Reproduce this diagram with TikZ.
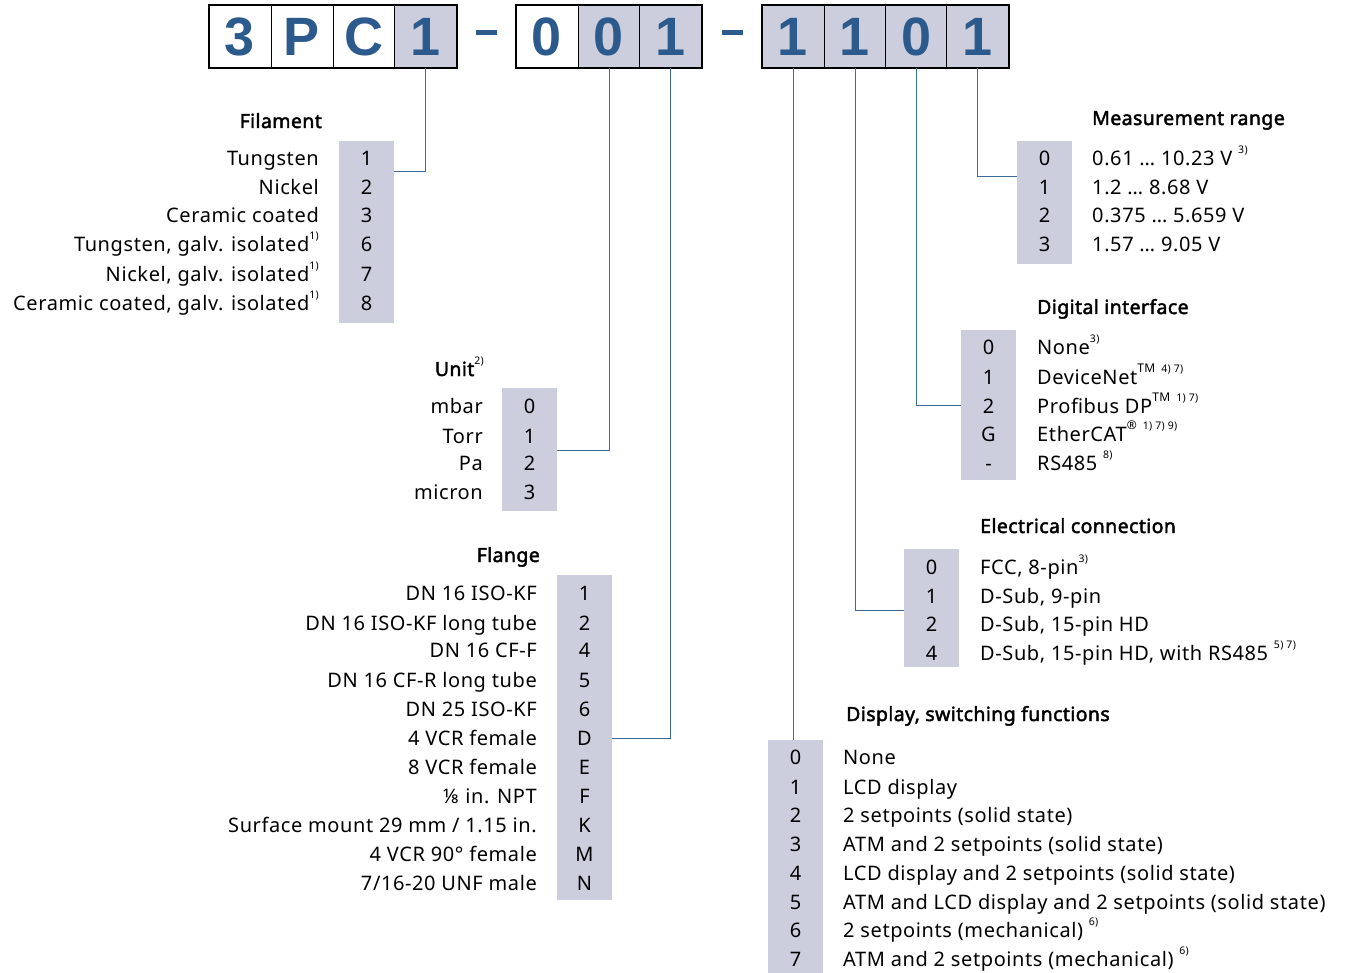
\documentclass[tikz,border=0pt]{standalone}
\usepackage{fontspec}
\usepackage{graphicx}
\setmainfont{Noto Sans}[LetterSpace=3]
\newfontfamily\hdrfont{Noto Sans}[FakeBold=2.2, LetterSpace=2]
\newfontfamily\codefont{Liberation Sans}
\definecolor{codeblue}{RGB}{44,90,140}
\definecolor{colgray}{RGB}{204,206,222}
\definecolor{connblue}{RGB}{60,106,154}
\newcommand\fn[1]{\raisebox{0.6em}{\normalfont\fontsize{10.5}{10.5}\selectfont #1}}
\tikzset{
  codebox/.style={draw=black, line width=1pt, minimum width=62pt, minimum height=62pt, inner sep=0pt,
    font=\codefont\bfseries\fontsize{54}{54}\selectfont, text=codeblue},
  grp/.style={draw=black, line width=2pt},
  colbox/.style={fill=colgray, minimum width=55pt, inner sep=0pt},
  itm/.style={font=\fontsize{20}{20}\selectfont, inner sep=0pt, text height=20pt, text depth=4pt},
  lft/.style={itm, anchor=east},
  rgt/.style={itm, anchor=west},
  dig/.style={itm, anchor=center},
  hdr/.style={font=\hdrfont\fontsize{19.5}{20}\selectfont, inner sep=0pt, text height=20pt, text depth=4pt},
  conn/.style={draw=connblue, line width=1pt},
  dashbar/.style={fill=codeblue, draw=none, minimum width=21pt, minimum height=5pt, inner sep=0pt}
}
\begin{document}
\begin{tikzpicture}[x=1pt,y=-1pt]
\useasboundingbox (0,0) rectangle (1346,973);
% code boxes
\node[codebox, fill=white] (a1) at (240,37) {3};
\node[codebox, fill=white] (a2) at (302,37) {P};
\node[codebox, fill=white] (a3) at (364,37) {C};
\node[codebox, fill=colgray] (a4) at (425.5,37) {1};
\draw[grp] (a1.north west) rectangle (a4.south east);
\node[dashbar] (d1) at (486.5,33) {};
\node[codebox, fill=white] (b1) at (547,37) {0};
\node[codebox, fill=colgray] (b2) at (609,37) {0};
\node[codebox, fill=colgray] (b3) at (670.5,37) {1};
\draw[grp] (b1.north west) rectangle (b3.south east);
\node[dashbar] (d2) at (732,33) {};
\node[codebox, fill=colgray] (c1) at (793,37) {1};
\node[codebox, fill=colgray] (c2) at (855,37) {1};
\node[codebox, fill=colgray] (c3) at (916.5,37) {0};
\node[codebox, fill=colgray] (c4) at (977.5,37) {1};
\draw[grp] (c1.north west) rectangle (c4.south east);

% Filament
\node[hdr, anchor=east] (filh) at (322,120) {Filament};
\node[colbox, minimum height=182pt] (filc) at (366.5,232) {};
\foreach \t/\d/\y [count=\i] in {Tungsten/1/158, Nickel/2/187, Ceramic coated/3/215,
  {Tungsten, galv. isolated\fn{1)}}/6/244, {Nickel, galv. isolated\fn{1)}}/7/274,
  {Ceramic coated, galv. isolated\fn{1)}}/8/303}{
  \node[lft] (filt\i) at (319,\y) {\t};
  \node[dig] (fild\i) at (366.5,\y) {\d};
}
\coordinate (filk) at (394,172);
\draw[conn] (a4.south) |- (filk);

% Unit
\node[hdr, anchor=east] (unith) at (484,368) {Unit\fn{2)}};
\node[colbox, minimum height=123pt] (unitc) at (529.5,449.5) {};
\foreach \t/\d/\y [count=\i] in {mbar/0/405, Torr/1/435, Pa/2/462, micron/3/491}{
  \node[lft] (unitt\i) at (483,\y) {\t};
  \node[dig] (unitd\i) at (529.5,\y) {\d};
}
\coordinate (unitk) at (557,450);
\draw[conn] (b2.south) |- (unitk);

% Flange
\node[hdr, anchor=east] (flah) at (540,554) {Flange};
\node[colbox, minimum height=325pt] (flac) at (584.5,737.5) {};
\foreach \t/\d/\y [count=\i] in {{DN 16 ISO-KF}/1/592, {DN 16 ISO-KF long tube}/2/622, {DN 16 CF-F}/4/649,
  {DN 16 CF-R long tube}/5/679, {DN 25 ISO-KF}/6/708, {4 VCR female}/D/737, {8 VCR female}/E/766,
  {⅛ in. NPT}/F/795, {Surface mount 29 mm / 1.15 in.}/K/824, {4 VCR 90° female}/M/853, {7/16-20 UNF male}/N/882}{
  \node[lft] (flat\i) at (537,\y) {\t};
  \node[dig] (flad\i) at (584.5,\y) {\d};
}
\coordinate (flak) at (612,738);
\draw[conn] (b3.south) |- (flak);

% Measurement range
\node[hdr, anchor=west] (meah) at (1092,117) {Measurement range};
\node[colbox, minimum height=123pt] (meac) at (1044.5,202.5) {};
\foreach \t/\d/\y [count=\i] in {{0.61 … 10.23 V \fn{3)}}/0/158, {1.2 … 8.68 V}/1/187,
  {0.375 … 5.659 V}/2/215, {1.57 … 9.05 V}/3/244}{
  \node[rgt] (meat\i) at (1092,\y) {\t};
  \node[dig] (mead\i) at (1044.5,\y) {\d};
}
\coordinate (meak) at (1017,177);
\draw[conn] (c4.south) |- (meak);

% Digital interface
\node[hdr, anchor=west] (digh) at (1037,306) {Digital interface};
\node[colbox, minimum height=150pt] (digc) at (988.5,405) {};
\foreach \t/\d/\y [count=\i] in {{None\fn{3)}}/0/347, {DeviceNet\fn{\fontsize{12}{12}\selectfont TM}\fn{\ \ 4) 7)}}/1/376,
  {Profibus DP\fn{\fontsize{12}{12}\selectfont TM}\fn{\ \ 1) 7)}}/2/405, {EtherCAT\fn{\fontsize{12}{12}\selectfont ®}\fn{\ \ 1) 7) 9)}}/G/433,
  {RS485 \fn{8)}}/-/462}{
  \node[rgt] (digt\i) at (1037,\y) {\t};
  \node[dig] (digd\i) at (988.5,\y) {\d};
}
\coordinate (digk) at (961,405);
\draw[conn] (c3.south) |- (digk);

% Electrical connection
\node[hdr, anchor=west] (eleh) at (980,525) {Electrical connection};
\node[colbox, minimum height=118pt] (elec) at (931.5,608) {};
\foreach \t/\d/\y [count=\i] in {{FCC, 8-pin\fn{3)}}/0/566, {D-Sub, 9-pin}/1/595,
  {D-Sub, 15-pin HD}/2/623, {D-Sub, 15-pin HD, with RS485 \fn{5) 7)}}/4/652}{
  \node[rgt] (elet\i) at (980,\y) {\t};
  \node[dig] (eled\i) at (931.5,\y) {\d};
}
\coordinate (elek) at (904,610);
\draw[conn] (c2.south) |- (elek);

% Display, switching functions
\node[hdr, anchor=west] (disph) at (846,713) {Display, switching functions};
\node[colbox, minimum height=233pt, anchor=north] (dispc) at (795.5,740) {};
\foreach \t/\d/\y [count=\i] in {{None}/0/756, {LCD display}/1/786, {2 setpoints (solid state)}/2/814,
  {ATM and 2 setpoints (solid state)}/3/843, {LCD display and 2 setpoints (solid state)}/4/872,
  {ATM and LCD display and 2 setpoints (solid state)}/5/901, {2 setpoints (mechanical) \fn{6)}}/6/929,
  {ATM and 2 setpoints (mechanical) \fn{6)}}/7/958}{
  \node[rgt] (dispt\i) at (843,\y) {\t};
  \node[dig] (dispd\i) at (795.5,\y) {\d};
}
\draw[conn] (c1.south) -- (dispc.north -| c1.south);
\end{tikzpicture}
\end{document}
